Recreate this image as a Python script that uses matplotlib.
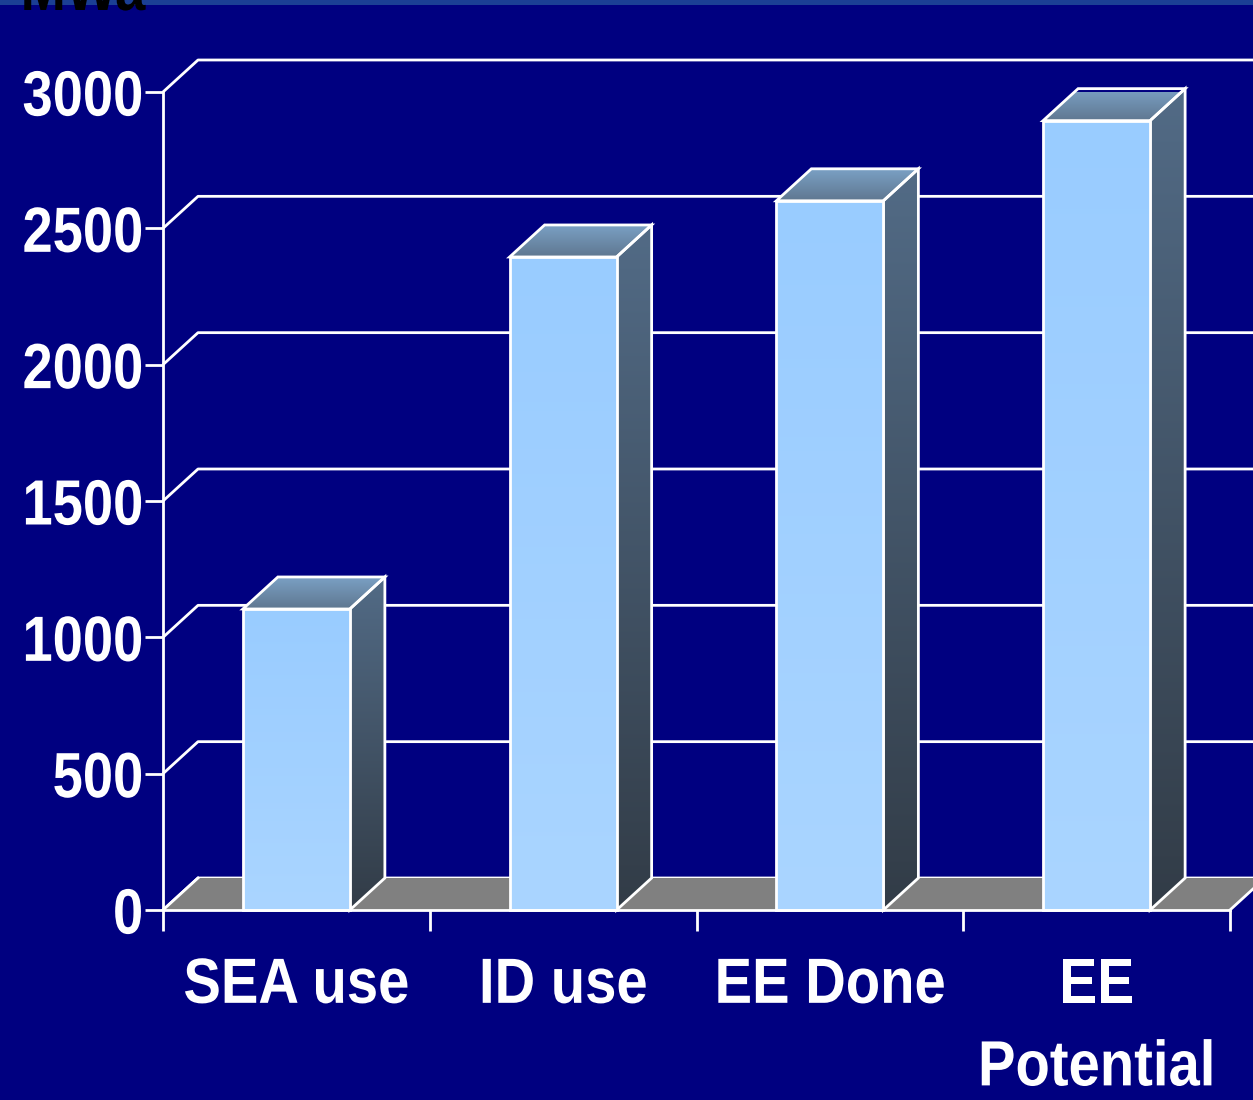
import numpy as np
import matplotlib
matplotlib.use("Agg")
import matplotlib.pyplot as plt
from matplotlib.patches import Polygon, Rectangle
from matplotlib.patheffects import AbstractPathEffect
from matplotlib.transforms import Affine2D

categories = ["SEA use", "ID use", "EE Done", "EE\nPotential"]
values = [1104, 2395, 2601, 2895]
yticks = [0, 500, 1000, 1500, 2000, 2500, 3000]
unit_label = "MWa"

FONT = "Liberation Sans"


class Squeeze(AbstractPathEffect):
    """Horizontally condense text (imitates a narrow typeface)."""

    def __init__(self, sx, anchor="center"):
        super().__init__()
        self.sx = sx
        self.anchor = anchor

    def draw_path(self, renderer, gc, tpath, affine, rgbFace=None):
        ext = tpath.get_extents()
        if self.anchor == "right":
            x0 = ext.x1
        elif self.anchor == "left":
            x0 = ext.x0
        else:
            x0 = 0.5 * (ext.x0 + ext.x1)
        t = Affine2D().translate(-x0, 0).scale(self.sx, 1).translate(x0, 0) + affine
        renderer.draw_path(gc, tpath, t, rgbFace)


BG = "#000080"
W, H = 1253, 1100
fig = plt.figure(figsize=(W / 100, H / 100), dpi=100, facecolor=BG)
ax = fig.add_axes([163 / W, 190 / H, (1230 - 163) / W, (1008 - 190) / H])
ax.set_facecolor("none")
ax.set_xlim(-0.5, 3.5)
ax.set_ylim(0, 3000)

# 3D depth offsets (35 px right, 32 px up) expressed in data units
DX = 35 / 266.75
DY = 32 / (818 / 3000)
HW = 107 / 266.75 / 2
LW = 2.0

# back wall gridlines + diagonal on left wall
for v in yticks:
    ax.plot([-0.5, -0.5 + DX, 5], [v, v + DY, v + DY], color="white", lw=LW,
            clip_on=False, zorder=1, solid_capstyle="butt")

# floor
floor = Polygon([(-0.5, 0), (3.5, 0), (3.5 + DX, DY), (5, DY), (-0.5 + DX, DY)],
                closed=True, facecolor="#808080", edgecolor="none", zorder=2, clip_on=False)
ax.add_patch(floor)
ax.plot([3.5, 3.5 + DX], [0, DY], color="white", lw=LW, clip_on=False, zorder=3)
ax.plot([-0.5, -0.5 + DX], [0, DY], color="white", lw=LW, clip_on=False, zorder=3)


def grad_fill(poly_pts, c_top, c_bot, z):
    pts = np.array(poly_pts)
    x0, x1 = pts[:, 0].min(), pts[:, 0].max()
    y0, y1 = pts[:, 1].min(), pts[:, 1].max()
    ct = np.array(matplotlib.colors.to_rgb(c_top))
    cb = np.array(matplotlib.colors.to_rgb(c_bot))
    t = np.linspace(0, 1, 256)[:, None]
    img = (cb * (1 - t) + ct * t)[:, None, :]
    im = ax.imshow(img, extent=[x0, x1, y0, y1], origin="lower", aspect="auto",
                   zorder=z, interpolation="bilinear")
    poly = Polygon(pts, closed=True, facecolor="none", edgecolor="white", lw=LW, zorder=z + 0.1,
                   joinstyle="miter", clip_on=False)
    ax.add_patch(poly)
    im.set_clip_path(poly)


for i, v in enumerate(values):
    xl, xr = i - HW, i + HW
    grad_fill([(xr, 0), (xr + DX, DY), (xr + DX, v + DY), (xr, v)], "#526b86", "#323c47", 5)
    grad_fill([(xl, v), (xr, v), (xr + DX, v + DY), (xl + DX, v + DY)], "#7aa0c4", "#5f7790", 5)
    grad_fill([(xl, 0), (xr, 0), (xr, v), (xl, v)], "#99ccff", "#aad5ff", 6)

ax.set_xlim(-0.5, 3.5)
ax.set_ylim(0, 3000)

for s in ["top", "right"]:
    ax.spines[s].set_visible(False)
for s in ["left", "bottom"]:
    ax.spines[s].set_color("white")
    ax.spines[s].set_linewidth(LW)
    ax.spines[s].set_zorder(10)

ax.set_yticks(yticks)
ax.set_yticklabels([str(v) for v in yticks])
ax.set_xticks(np.arange(-0.5, 4.0, 1.0))
ax.set_xticklabels([])
ax.set_xticks(np.arange(len(categories)), minor=True)
ax.set_xticklabels(categories, minor=True)
ax.tick_params(axis="y", colors="white", length=13, width=LW, direction="out", pad=1,
               labelsize=46)
ax.tick_params(axis="x", which="major", colors="white", length=15, width=LW, direction="out")
ax.tick_params(axis="x", which="minor", colors="white", length=0, pad=33, labelsize=46)
for lab in ax.get_yticklabels():
    lab.set_fontfamily(FONT)
    lab.set_fontweight("bold")
    lab.set_color("white")
    lab.set_path_effects([Squeeze(0.85, "right")])
for lab in ax.get_xticklabels(minor=True):
    lab.set_fontfamily(FONT)
    lab.set_fontweight("bold")
    lab.set_color("white")
    lab.set_linespacing(1.48)
    lab.set_path_effects([Squeeze(0.88, "center")])

# top strip and cut-off unit label
fig.patches.append(Rectangle((0, 1 - 5 / H), 1, 5 / H, transform=fig.transFigure,
                             facecolor="#1b3f95", edgecolor="none", zorder=0))
fig.text(20 / W, 1 - 10 / H, unit_label, color="black", fontsize=46, fontweight="bold",
         fontfamily=FONT, ha="left", va="baseline",
         path_effects=[Squeeze(0.85, "left")])

fig.savefig("out.png", dpi=100, facecolor=BG)
